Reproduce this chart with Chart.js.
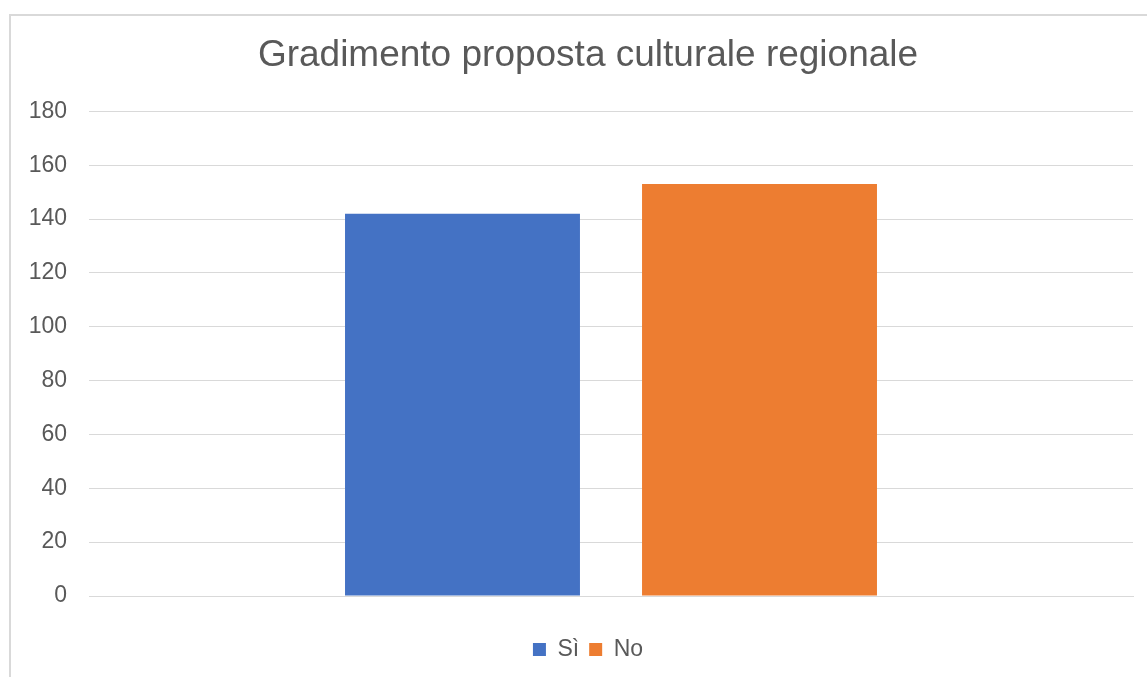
<!DOCTYPE html>
<html>
<head>
<meta charset="utf-8">
<script src="https://cdn.jsdelivr.net/npm/chart.js@4"></script>
<style>
  html, body { margin: 0; padding: 0; background: #fff; overflow: hidden; width: 1147px; height: 677px; }
  #frame { position: absolute; left: 9px; top: 14px; width: 1154px; height: 700px; border: 2px solid #d9d9d9; background: #fff; }
  #chart { display: block; }
</style>
</head>
<body>
<div id="frame"><canvas id="chart" width="1154" height="680"></canvas></div>
<script>
const categories = [''];
const seriesNames = ['Sì', 'No'];
const siValues = [142];
const noValues = [153];
const yTicks = [0, 20, 40, 60, 80, 100, 120, 140, 160, 180];

const textColor = '#595959';
const gridColor = '#d9d9d9';
const fontFamily = '"Liberation Sans", Arial, sans-serif';

const ctx = document.getElementById('chart').getContext('2d');
const chart = new Chart(ctx, {
  type: 'bar',
  data: {
    labels: categories,
    datasets: [
      {
        label: seriesNames[0],
        data: siValues,
        backgroundColor: '#4472c4',
        borderWidth: 0,
        categoryPercentage: 0.569,
        barPercentage: 0.791
      },
      {
        label: seriesNames[1],
        data: noValues,
        backgroundColor: '#ed7d31',
        borderWidth: 0,
        categoryPercentage: 0.569,
        barPercentage: 0.791
      }
    ]
  },
  options: {
    responsive: false,
    animation: false,
    layout: {
      padding: { top: 2, bottom: 25, left: 0, right: 0 }
    },
    plugins: {
      title: {
        display: true,
        text: 'Gradimento proposta culturale regionale',
        color: textColor,
        font: { family: fontFamily, size: 37, weight: 'normal', lineHeight: 1.2 },
        padding: { top: 16, bottom: 33 }
      },
      legend: {
        position: 'bottom',
        labels: {
          color: textColor,
          font: { family: fontFamily, size: 23 },
          boxWidth: 13,
          boxHeight: 13,
          padding: 10
        }
      },
      tooltip: { enabled: false }
    },
    scales: {
      x: {
        ticks: { display: false },
        grid: { display: false },
        border: { display: true, color: gridColor, width: 1 },
        afterFit: function(scale) { scale.height = 32; }
      },
      y: {
        min: 0,
        max: 180,
        afterBuildTicks: function(scale) {
          scale.ticks = yTicks.map(v => ({ value: v }));
        },
        ticks: {
          color: textColor,
          font: { family: fontFamily, size: 23 },
          padding: 22
        },
        grid: { color: gridColor, lineWidth: 1, drawTicks: false },
        border: { display: false },
        afterFit: function(scale) { scale.width = 78; }
      },
      // empty right-hand margin so the plot ends short of the frame edge
      yRight: {
        position: 'right',
        min: 0,
        max: 180,
        ticks: { display: false },
        grid: { display: false },
        border: { display: false },
        afterFit: function(scale) { scale.width = 32; }
      }
    }
  }
});
</script>
</body>
</html>
